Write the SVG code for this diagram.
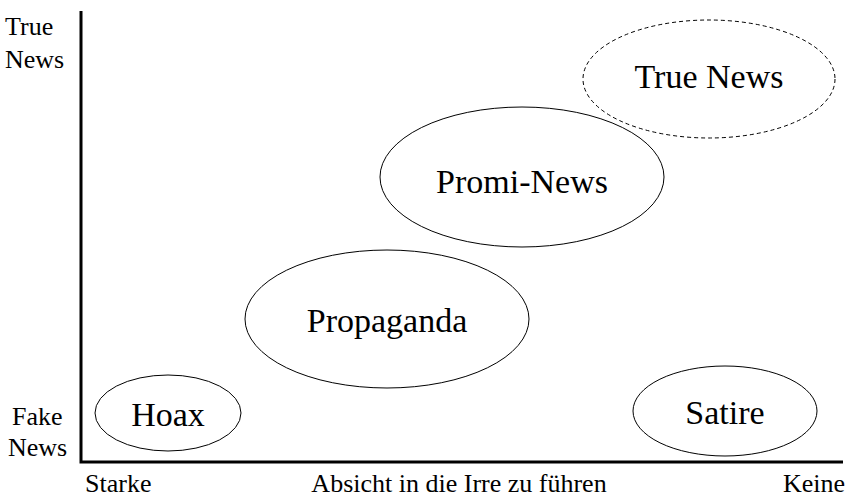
<svg xmlns="http://www.w3.org/2000/svg" width="848" height="500" viewBox="0 0 848 500">
<style>
text{font-family:"Liberation Serif","Times New Roman",serif;fill:#000}
.ax{font-size:26px}
.lb{font-size:34px;text-anchor:middle}
.el{fill:none;stroke:#000;stroke-width:1}
.dash{stroke-dasharray:4,3}
.axis{stroke:#000;stroke-width:3;fill:none}
</style>
<rect width="848" height="500" fill="#fff"/>
<g id="axes">
<path class="axis" d="M81,11 V462 H843"/>
</g>
<g id="axis-labels">
<text class="ax" x="5" y="35">True</text>
<text class="ax" x="5" y="68">News</text>
<text class="ax" x="12" y="425">Fake</text>
<text class="ax" x="8" y="456">News</text>
<text class="ax" x="85" y="492">Starke</text>
<text class="ax" x="459" y="492" text-anchor="middle">Absicht in die Irre zu führen</text>
<text class="ax" x="845" y="492" text-anchor="end">Keine</text>
</g>
<g id="hoax">
<ellipse class="el" cx="168" cy="413" rx="73" ry="38"/>
<text class="lb" x="168" y="426">Hoax</text>
</g>
<g id="propaganda">
<ellipse class="el" cx="387" cy="319" rx="142" ry="69"/>
<text class="lb" x="387" y="332">Propaganda</text>
</g>
<g id="promi-news">
<ellipse class="el" cx="522" cy="177" rx="142" ry="70"/>
<text class="lb" x="522" y="193">Promi-News</text>
</g>
<g id="true-news">
<ellipse class="el dash" cx="709" cy="79" rx="126" ry="59"/>
<text class="lb" x="709" y="88">True News</text>
</g>
<g id="satire">
<ellipse class="el" cx="725" cy="411" rx="92" ry="45"/>
<text class="lb" x="725" y="424">Satire</text>
</g>
<g id="connectors"></g>
</svg>
